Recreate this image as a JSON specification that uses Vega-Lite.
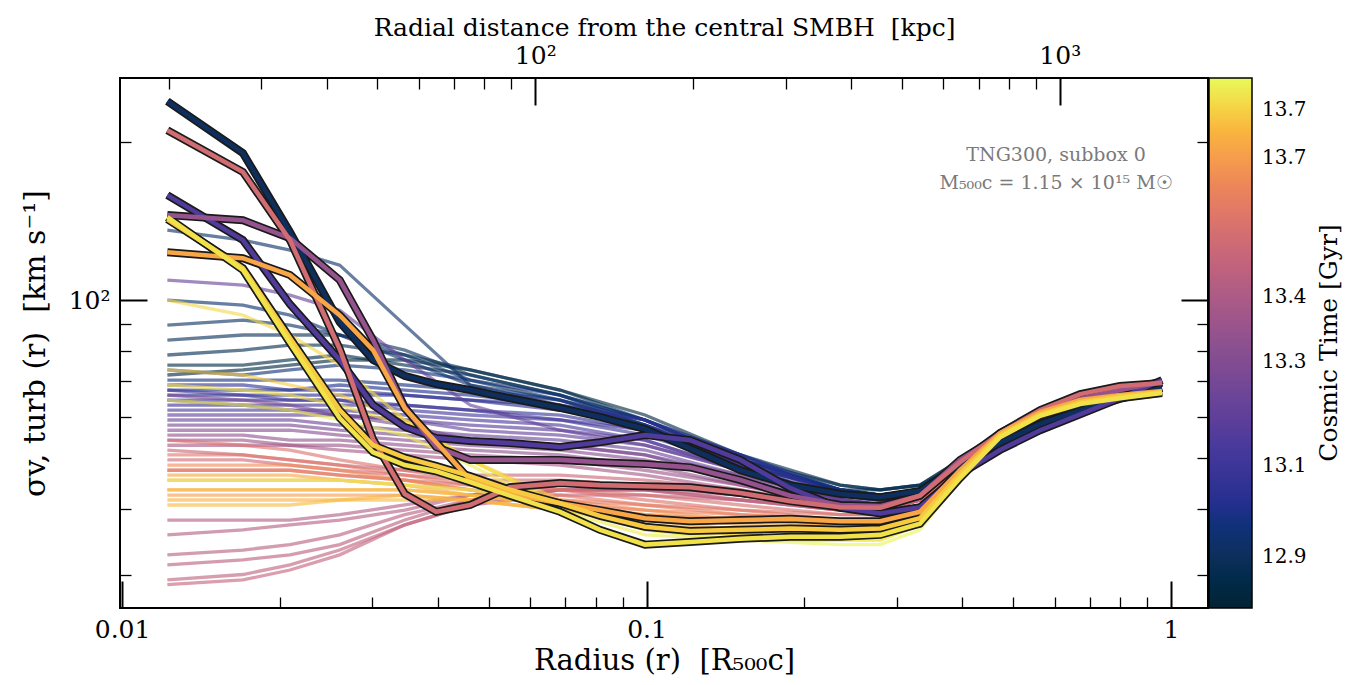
{
"$schema":"https://vega.github.io/schema/vega-lite/v6.json",
"width":1088,"height":530,
"autosize":{"type":"none"},
"padding":{"left":120,"top":78,"right":149,"bottom":77},
"background":"white",
"config":{
 "font":"DejaVu Serif",
 "view":{"stroke":"black","strokeWidth":2},
 "axis":{"domain":false,"grid":false,"tickColor":"black","labelColor":"black","titleColor":"black","titleFontWeight":"normal","labelFlush":false,"labelFont":"DejaVu Serif","titleFont":"DejaVu Serif"},
 "legend":{"labelFont":"DejaVu Serif","titleFont":"DejaVu Serif"},
 "text":{"font":"DejaVu Serif"}
},
"datasets":{
"lines":[{"l":"B1","c":0.03},{"l":"B2","c":0.05},{"l":"B3","c":0.07},{"l":"B4","c":0.09},{"l":"B5","c":0.11},{"l":"B7","c":0.12},{"l":"B6","c":0.13},{"l":"B8","c":0.15},{"l":"I1","c":0.17},{"l":"I2","c":0.19},{"l":"I3","c":0.21},{"l":"I4","c":0.23},{"l":"I5","c":0.25},{"l":"I6","c":0.27},{"l":"I7","c":0.29},{"l":"I8","c":0.31},{"l":"P1","c":0.34},{"l":"P2","c":0.37},{"l":"P6","c":0.38},{"l":"P3","c":0.40},{"l":"P4","c":0.43},{"l":"P5","c":0.45},{"l":"M1","c":0.48},{"l":"M2","c":0.51},{"l":"M3","c":0.54},{"l":"M4","c":0.57},{"l":"R1","c":0.60},{"l":"R2","c":0.61},{"l":"R3","c":0.62},{"l":"R4","c":0.63},{"l":"R5","c":0.64},{"l":"R6","c":0.65},{"l":"R7","c":0.67},{"l":"R8","c":0.69},{"l":"R9","c":0.71},{"l":"O1","c":0.73},{"l":"O2","c":0.75},{"l":"O3","c":0.77},{"l":"O4","c":0.79},{"l":"O5","c":0.81},{"l":"O6","c":0.83},{"l":"O7","c":0.85},{"l":"O8","c":0.87},{"l":"Y1","c":0.89},{"l":"Y2","c":0.91},{"l":"Y8","c":0.92},{"l":"Y3","c":0.93},{"l":"Y4","c":0.95},{"l":"Y5","c":0.96},{"l":"Y6","c":0.98},{"l":"Y7","c":0.99},{"l":"H1","c":0.10},{"l":"H2","c":0.32},{"l":"H3","c":0.52},{"l":"H4","c":0.70},{"l":"H5","c":0.87},{"l":"H6","c":0.93},{"l":"H7","c":0.965}],
"bg":[
{"l":"B1","r":0.0122,"v":72},{"l":"B1","r":0.017,"v":73.6},{"l":"B1","r":0.0209,"v":75.2},{"l":"B1","r":0.026,"v":76.9},{"l":"B1","r":0.0346,"v":76.9},{"l":"B1","r":0.0461,"v":73.6},{"l":"B1","r":0.0684,"v":67.4},{"l":"B1","r":0.0993,"v":60.4},{"l":"B1","r":0.151,"v":50.7},{"l":"B1","r":0.234,"v":44.4},{"l":"B1","r":0.279,"v":43.5},{"l":"B1","r":0.332,"v":44.4},{"l":"B1","r":0.396,"v":49.6},{"l":"B1","r":0.472,"v":52.9},{"l":"B1","r":0.563,"v":56.5},{"l":"B1","r":0.671,"v":60.4},{"l":"B1","r":0.799,"v":64.5},{"l":"B1","r":0.961,"v":67.4},
{"l":"B2","r":0.0122,"v":75.2},{"l":"B2","r":0.017,"v":75.2},{"l":"B2","r":0.0209,"v":76.9},{"l":"B2","r":0.026,"v":78.6},{"l":"B2","r":0.0346,"v":75.2},{"l":"B2","r":0.0461,"v":72},{"l":"B2","r":0.0684,"v":65.9},{"l":"B2","r":0.0993,"v":59.1},{"l":"B2","r":0.151,"v":49.6},{"l":"B2","r":0.234,"v":43.5},{"l":"B2","r":0.279,"v":43.5},{"l":"B2","r":0.332,"v":44.4},{"l":"B2","r":0.396,"v":49.6},{"l":"B2","r":0.472,"v":52.9},{"l":"B2","r":0.563,"v":57.8},{"l":"B2","r":0.671,"v":61.7},{"l":"B2","r":0.799,"v":64.5},{"l":"B2","r":0.961,"v":67.4},
{"l":"B3","r":0.0122,"v":78.6},{"l":"B3","r":0.017,"v":80.3},{"l":"B3","r":0.0209,"v":82.1},{"l":"B3","r":0.026,"v":82.1},{"l":"B3","r":0.0346,"v":78.6},{"l":"B3","r":0.0461,"v":73.6},{"l":"B3","r":0.0684,"v":67.4},{"l":"B3","r":0.0993,"v":59.1},{"l":"B3","r":0.151,"v":49.6},{"l":"B3","r":0.234,"v":44.4},{"l":"B3","r":0.279,"v":43.5},{"l":"B3","r":0.332,"v":44.4},{"l":"B3","r":0.396,"v":48.5},{"l":"B3","r":0.472,"v":52.9},{"l":"B3","r":0.563,"v":56.5},{"l":"B3","r":0.671,"v":60.4},{"l":"B3","r":0.799,"v":64.5},{"l":"B3","r":0.961,"v":67.4},
{"l":"B4","r":0.0122,"v":83.9},{"l":"B4","r":0.017,"v":85.8},{"l":"B4","r":0.0209,"v":85.8},{"l":"B4","r":0.026,"v":85.8},{"l":"B4","r":0.0346,"v":80.3},{"l":"B4","r":0.0461,"v":72},{"l":"B4","r":0.0684,"v":65.9},{"l":"B4","r":0.0993,"v":57.8},{"l":"B4","r":0.151,"v":48.5},{"l":"B4","r":0.234,"v":43.5},{"l":"B4","r":0.279,"v":42.5},{"l":"B4","r":0.332,"v":43.5},{"l":"B4","r":0.396,"v":48.5},{"l":"B4","r":0.472,"v":52.9},{"l":"B4","r":0.563,"v":57.8},{"l":"B4","r":0.671,"v":61.7},{"l":"B4","r":0.799,"v":64.5},{"l":"B4","r":0.961,"v":67.4},
{"l":"B5","r":0.0122,"v":89.6},{"l":"B5","r":0.017,"v":91.6},{"l":"B5","r":0.0209,"v":89.6},{"l":"B5","r":0.026,"v":85.8},{"l":"B5","r":0.0346,"v":78.6},{"l":"B5","r":0.0461,"v":70.4},{"l":"B5","r":0.0684,"v":64.5},{"l":"B5","r":0.0993,"v":57.8},{"l":"B5","r":0.151,"v":48.5},{"l":"B5","r":0.234,"v":43.5},{"l":"B5","r":0.279,"v":42.5},{"l":"B5","r":0.332,"v":43.5},{"l":"B5","r":0.396,"v":48.5},{"l":"B5","r":0.472,"v":52.9},{"l":"B5","r":0.563,"v":57.8},{"l":"B5","r":0.671,"v":61.7},{"l":"B5","r":0.799,"v":64.5},{"l":"B5","r":0.961,"v":67.4},
{"l":"B7","r":0.0122,"v":135.9},{"l":"B7","r":0.017,"v":130.1},{"l":"B7","r":0.0209,"v":124.5},{"l":"B7","r":0.026,"v":116.6},{"l":"B7","r":0.0346,"v":89.6},{"l":"B7","r":0.0461,"v":68.9},{"l":"B7","r":0.0684,"v":63.1},{"l":"B7","r":0.0993,"v":56.5},{"l":"B7","r":0.151,"v":48.5},{"l":"B7","r":0.234,"v":43.5},{"l":"B7","r":0.279,"v":42.5},{"l":"B7","r":0.332,"v":43.5},{"l":"B7","r":0.396,"v":48.5},{"l":"B7","r":0.472,"v":52.9},{"l":"B7","r":0.563,"v":57.8},{"l":"B7","r":0.671,"v":61.7},{"l":"B7","r":0.799,"v":64.5},{"l":"B7","r":0.961,"v":67.4},
{"l":"B6","r":0.0122,"v":100},{"l":"B6","r":0.017,"v":97.8},{"l":"B6","r":0.0209,"v":93.6},{"l":"B6","r":0.026,"v":85.8},{"l":"B6","r":0.0346,"v":76.9},{"l":"B6","r":0.0461,"v":68.9},{"l":"B6","r":0.0684,"v":64.5},{"l":"B6","r":0.0993,"v":57.8},{"l":"B6","r":0.151,"v":49.6},{"l":"B6","r":0.234,"v":43.5},{"l":"B6","r":0.279,"v":42.5},{"l":"B6","r":0.332,"v":43.5},{"l":"B6","r":0.396,"v":48.5},{"l":"B6","r":0.472,"v":52.9},{"l":"B6","r":0.563,"v":57.8},{"l":"B6","r":0.671,"v":61.7},{"l":"B6","r":0.799,"v":64.5},{"l":"B6","r":0.961,"v":67.4},
{"l":"B8","r":0.0122,"v":73.6},{"l":"B8","r":0.017,"v":72},{"l":"B8","r":0.0209,"v":73.6},{"l":"B8","r":0.026,"v":75.2},{"l":"B8","r":0.0346,"v":73.6},{"l":"B8","r":0.0461,"v":70.4},{"l":"B8","r":0.0684,"v":65.9},{"l":"B8","r":0.0993,"v":59.1},{"l":"B8","r":0.151,"v":49.6},{"l":"B8","r":0.234,"v":43.5},{"l":"B8","r":0.279,"v":42.5},{"l":"B8","r":0.332,"v":43.5},{"l":"B8","r":0.396,"v":48.5},{"l":"B8","r":0.472,"v":52.9},{"l":"B8","r":0.563,"v":56.5},{"l":"B8","r":0.671,"v":61.7},{"l":"B8","r":0.799,"v":64.5},{"l":"B8","r":0.961,"v":67.4},
{"l":"I1","r":0.0122,"v":70.4},{"l":"I1","r":0.017,"v":70.4},{"l":"I1","r":0.0209,"v":70.4},{"l":"I1","r":0.026,"v":70.4},{"l":"I1","r":0.0346,"v":68.9},{"l":"I1","r":0.0461,"v":67.4},{"l":"I1","r":0.0684,"v":64.5},{"l":"I1","r":0.0993,"v":59.1},{"l":"I1","r":0.151,"v":50.7},{"l":"I1","r":0.234,"v":43.5},{"l":"I1","r":0.279,"v":42.5},{"l":"I1","r":0.332,"v":43.5},{"l":"I1","r":0.396,"v":48.5},{"l":"I1","r":0.472,"v":52.9},{"l":"I1","r":0.563,"v":57.8},{"l":"I1","r":0.671,"v":61.7},{"l":"I1","r":0.799,"v":65.9},{"l":"I1","r":0.961,"v":68.9},
{"l":"I2","r":0.0122,"v":67.4},{"l":"I2","r":0.017,"v":67.4},{"l":"I2","r":0.0209,"v":67.4},{"l":"I2","r":0.026,"v":68.9},{"l":"I2","r":0.0346,"v":67.4},{"l":"I2","r":0.0461,"v":65.9},{"l":"I2","r":0.0684,"v":63.1},{"l":"I2","r":0.0993,"v":59.1},{"l":"I2","r":0.151,"v":50.7},{"l":"I2","r":0.234,"v":42.5},{"l":"I2","r":0.279,"v":41.6},{"l":"I2","r":0.332,"v":42.5},{"l":"I2","r":0.396,"v":47.4},{"l":"I2","r":0.472,"v":51.8},{"l":"I2","r":0.563,"v":56.5},{"l":"I2","r":0.671,"v":61.7},{"l":"I2","r":0.799,"v":65.9},{"l":"I2","r":0.961,"v":68.9},
{"l":"I3","r":0.0122,"v":65.9},{"l":"I3","r":0.017,"v":65.9},{"l":"I3","r":0.0209,"v":65.9},{"l":"I3","r":0.026,"v":65.9},{"l":"I3","r":0.0346,"v":65.9},{"l":"I3","r":0.0461,"v":64.5},{"l":"I3","r":0.0684,"v":61.7},{"l":"I3","r":0.0993,"v":57.8},{"l":"I3","r":0.151,"v":50.7},{"l":"I3","r":0.234,"v":42.5},{"l":"I3","r":0.279,"v":41.6},{"l":"I3","r":0.332,"v":42.5},{"l":"I3","r":0.396,"v":47.4},{"l":"I3","r":0.472,"v":51.8},{"l":"I3","r":0.563,"v":56.5},{"l":"I3","r":0.671,"v":61.7},{"l":"I3","r":0.799,"v":65.9},{"l":"I3","r":0.961,"v":68.9},
{"l":"I4","r":0.0122,"v":68.9},{"l":"I4","r":0.017,"v":68.9},{"l":"I4","r":0.0209,"v":67.4},{"l":"I4","r":0.026,"v":67.4},{"l":"I4","r":0.0346,"v":65.9},{"l":"I4","r":0.0461,"v":64.5},{"l":"I4","r":0.0684,"v":63.1},{"l":"I4","r":0.0993,"v":59.1},{"l":"I4","r":0.151,"v":49.6},{"l":"I4","r":0.234,"v":42.5},{"l":"I4","r":0.279,"v":41.6},{"l":"I4","r":0.332,"v":42.5},{"l":"I4","r":0.396,"v":47.4},{"l":"I4","r":0.472,"v":51.8},{"l":"I4","r":0.563,"v":56.5},{"l":"I4","r":0.671,"v":60.4},{"l":"I4","r":0.799,"v":64.5},{"l":"I4","r":0.961,"v":68.9},
{"l":"I5","r":0.0122,"v":64.5},{"l":"I5","r":0.017,"v":64.5},{"l":"I5","r":0.0209,"v":64.5},{"l":"I5","r":0.026,"v":64.5},{"l":"I5","r":0.0346,"v":63.1},{"l":"I5","r":0.0461,"v":61.7},{"l":"I5","r":0.0684,"v":60.4},{"l":"I5","r":0.0993,"v":56.5},{"l":"I5","r":0.151,"v":48.5},{"l":"I5","r":0.234,"v":42.5},{"l":"I5","r":0.279,"v":41.6},{"l":"I5","r":0.332,"v":42.5},{"l":"I5","r":0.396,"v":47.4},{"l":"I5","r":0.472,"v":51.8},{"l":"I5","r":0.563,"v":56.5},{"l":"I5","r":0.671,"v":60.4},{"l":"I5","r":0.799,"v":64.5},{"l":"I5","r":0.961,"v":68.9},
{"l":"I6","r":0.0122,"v":63.1},{"l":"I6","r":0.017,"v":63.1},{"l":"I6","r":0.0209,"v":63.1},{"l":"I6","r":0.026,"v":63.1},{"l":"I6","r":0.0346,"v":63.1},{"l":"I6","r":0.0461,"v":61.7},{"l":"I6","r":0.0684,"v":59.1},{"l":"I6","r":0.0993,"v":56.5},{"l":"I6","r":0.151,"v":48.5},{"l":"I6","r":0.234,"v":41.6},{"l":"I6","r":0.279,"v":41.6},{"l":"I6","r":0.332,"v":42.5},{"l":"I6","r":0.396,"v":47.4},{"l":"I6","r":0.472,"v":51.8},{"l":"I6","r":0.563,"v":56.5},{"l":"I6","r":0.671,"v":60.4},{"l":"I6","r":0.799,"v":64.5},{"l":"I6","r":0.961,"v":68.9},
{"l":"I7","r":0.0122,"v":67.4},{"l":"I7","r":0.017,"v":65.9},{"l":"I7","r":0.0209,"v":64.5},{"l":"I7","r":0.026,"v":64.5},{"l":"I7","r":0.0346,"v":61.7},{"l":"I7","r":0.0461,"v":60.4},{"l":"I7","r":0.0684,"v":59.1},{"l":"I7","r":0.0993,"v":55.3},{"l":"I7","r":0.151,"v":48.5},{"l":"I7","r":0.234,"v":41.6},{"l":"I7","r":0.279,"v":40.7},{"l":"I7","r":0.332,"v":42.5},{"l":"I7","r":0.396,"v":47.4},{"l":"I7","r":0.472,"v":51.8},{"l":"I7","r":0.563,"v":56.5},{"l":"I7","r":0.671,"v":60.4},{"l":"I7","r":0.799,"v":64.5},{"l":"I7","r":0.961,"v":68.9},
{"l":"I8","r":0.0122,"v":61.7},{"l":"I8","r":0.017,"v":61.7},{"l":"I8","r":0.0209,"v":61.7},{"l":"I8","r":0.026,"v":61.7},{"l":"I8","r":0.0346,"v":60.4},{"l":"I8","r":0.0461,"v":59.1},{"l":"I8","r":0.0684,"v":57.8},{"l":"I8","r":0.0993,"v":54.1},{"l":"I8","r":0.151,"v":47.4},{"l":"I8","r":0.234,"v":41.6},{"l":"I8","r":0.279,"v":40.7},{"l":"I8","r":0.332,"v":41.6},{"l":"I8","r":0.396,"v":47.4},{"l":"I8","r":0.472,"v":51.8},{"l":"I8","r":0.563,"v":56.5},{"l":"I8","r":0.671,"v":61.7},{"l":"I8","r":0.799,"v":65.9},{"l":"I8","r":0.961,"v":68.9},
{"l":"P1","r":0.0122,"v":64.5},{"l":"P1","r":0.017,"v":63.1},{"l":"P1","r":0.0209,"v":61.7},{"l":"P1","r":0.026,"v":60.4},{"l":"P1","r":0.0346,"v":59.1},{"l":"P1","r":0.0461,"v":57.8},{"l":"P1","r":0.0684,"v":56.5},{"l":"P1","r":0.0993,"v":54.1},{"l":"P1","r":0.151,"v":47.4},{"l":"P1","r":0.234,"v":41.6},{"l":"P1","r":0.279,"v":40.7},{"l":"P1","r":0.332,"v":42.5},{"l":"P1","r":0.396,"v":48.5},{"l":"P1","r":0.472,"v":54.1},{"l":"P1","r":0.563,"v":59.1},{"l":"P1","r":0.671,"v":63.1},{"l":"P1","r":0.799,"v":65.9},{"l":"P1","r":0.961,"v":68.9},
{"l":"P2","r":0.0122,"v":60.4},{"l":"P2","r":0.017,"v":60.4},{"l":"P2","r":0.0209,"v":60.4},{"l":"P2","r":0.026,"v":60.4},{"l":"P2","r":0.0346,"v":59.1},{"l":"P2","r":0.0461,"v":56.5},{"l":"P2","r":0.0684,"v":55.3},{"l":"P2","r":0.0993,"v":52.9},{"l":"P2","r":0.151,"v":47.4},{"l":"P2","r":0.234,"v":41.6},{"l":"P2","r":0.279,"v":40.7},{"l":"P2","r":0.332,"v":42.5},{"l":"P2","r":0.396,"v":48.5},{"l":"P2","r":0.472,"v":54.1},{"l":"P2","r":0.563,"v":59.1},{"l":"P2","r":0.671,"v":63.1},{"l":"P2","r":0.799,"v":65.9},{"l":"P2","r":0.961,"v":68.9},
{"l":"P6","r":0.0122,"v":109.2},{"l":"P6","r":0.017,"v":106.8},{"l":"P6","r":0.0209,"v":102.2},{"l":"P6","r":0.026,"v":95.7},{"l":"P6","r":0.0346,"v":76.9},{"l":"P6","r":0.0461,"v":63.1},{"l":"P6","r":0.0684,"v":56.5},{"l":"P6","r":0.0993,"v":52.9},{"l":"P6","r":0.151,"v":47.4},{"l":"P6","r":0.234,"v":41.6},{"l":"P6","r":0.279,"v":40.7},{"l":"P6","r":0.332,"v":42.5},{"l":"P6","r":0.396,"v":48.5},{"l":"P6","r":0.472,"v":54.1},{"l":"P6","r":0.563,"v":59.1},{"l":"P6","r":0.671,"v":63.1},{"l":"P6","r":0.799,"v":65.9},{"l":"P6","r":0.961,"v":68.9},
{"l":"P3","r":0.0122,"v":59.1},{"l":"P3","r":0.017,"v":59.1},{"l":"P3","r":0.0209,"v":59.1},{"l":"P3","r":0.026,"v":57.8},{"l":"P3","r":0.0346,"v":56.5},{"l":"P3","r":0.0461,"v":55.3},{"l":"P3","r":0.0684,"v":54.1},{"l":"P3","r":0.0993,"v":51.8},{"l":"P3","r":0.151,"v":46.4},{"l":"P3","r":0.234,"v":41.6},{"l":"P3","r":0.279,"v":40.7},{"l":"P3","r":0.332,"v":42.5},{"l":"P3","r":0.396,"v":48.5},{"l":"P3","r":0.472,"v":54.1},{"l":"P3","r":0.563,"v":59.1},{"l":"P3","r":0.671,"v":63.1},{"l":"P3","r":0.799,"v":65.9},{"l":"P3","r":0.961,"v":68.9},
{"l":"P4","r":0.0122,"v":57.8},{"l":"P4","r":0.017,"v":57.8},{"l":"P4","r":0.0209,"v":57.8},{"l":"P4","r":0.026,"v":56.5},{"l":"P4","r":0.0346,"v":55.3},{"l":"P4","r":0.0461,"v":54.1},{"l":"P4","r":0.0684,"v":52.9},{"l":"P4","r":0.0993,"v":50.7},{"l":"P4","r":0.151,"v":46.4},{"l":"P4","r":0.234,"v":40.7},{"l":"P4","r":0.279,"v":40.7},{"l":"P4","r":0.332,"v":41.6},{"l":"P4","r":0.396,"v":48.5},{"l":"P4","r":0.472,"v":54.1},{"l":"P4","r":0.563,"v":59.1},{"l":"P4","r":0.671,"v":63.1},{"l":"P4","r":0.799,"v":65.9},{"l":"P4","r":0.961,"v":68.9},
{"l":"P5","r":0.0122,"v":65.9},{"l":"P5","r":0.017,"v":64.5},{"l":"P5","r":0.0209,"v":63.1},{"l":"P5","r":0.026,"v":60.4},{"l":"P5","r":0.0346,"v":57.8},{"l":"P5","r":0.0461,"v":54.1},{"l":"P5","r":0.0684,"v":52.9},{"l":"P5","r":0.0993,"v":50.7},{"l":"P5","r":0.151,"v":45.4},{"l":"P5","r":0.234,"v":40.7},{"l":"P5","r":0.279,"v":40.7},{"l":"P5","r":0.332,"v":41.6},{"l":"P5","r":0.396,"v":48.5},{"l":"P5","r":0.472,"v":54.1},{"l":"P5","r":0.563,"v":59.1},{"l":"P5","r":0.671,"v":63.1},{"l":"P5","r":0.799,"v":65.9},{"l":"P5","r":0.961,"v":68.9},
{"l":"M1","r":0.0122,"v":56.5},{"l":"M1","r":0.017,"v":56.5},{"l":"M1","r":0.0209,"v":56.5},{"l":"M1","r":0.026,"v":55.3},{"l":"M1","r":0.0346,"v":54.1},{"l":"M1","r":0.0461,"v":52.9},{"l":"M1","r":0.0684,"v":51.8},{"l":"M1","r":0.0993,"v":49.6},{"l":"M1","r":0.151,"v":45.4},{"l":"M1","r":0.234,"v":40.7},{"l":"M1","r":0.279,"v":40.7},{"l":"M1","r":0.332,"v":41.6},{"l":"M1","r":0.396,"v":48.5},{"l":"M1","r":0.472,"v":54.1},{"l":"M1","r":0.563,"v":59.1},{"l":"M1","r":0.671,"v":63.1},{"l":"M1","r":0.799,"v":65.9},{"l":"M1","r":0.961,"v":68.9},
{"l":"M2","r":0.0122,"v":55.3},{"l":"M2","r":0.017,"v":55.3},{"l":"M2","r":0.0209,"v":54.1},{"l":"M2","r":0.026,"v":54.1},{"l":"M2","r":0.0346,"v":52.9},{"l":"M2","r":0.0461,"v":51.8},{"l":"M2","r":0.0684,"v":50.7},{"l":"M2","r":0.0993,"v":48.5},{"l":"M2","r":0.151,"v":44.4},{"l":"M2","r":0.234,"v":40.7},{"l":"M2","r":0.279,"v":39.8},{"l":"M2","r":0.332,"v":41.6},{"l":"M2","r":0.396,"v":48.5},{"l":"M2","r":0.472,"v":54.1},{"l":"M2","r":0.563,"v":59.1},{"l":"M2","r":0.671,"v":63.1},{"l":"M2","r":0.799,"v":65.9},{"l":"M2","r":0.961,"v":68.9},
{"l":"M3","r":0.0122,"v":54.1},{"l":"M3","r":0.017,"v":54.1},{"l":"M3","r":0.0209,"v":52.9},{"l":"M3","r":0.026,"v":52.9},{"l":"M3","r":0.0346,"v":51.8},{"l":"M3","r":0.0461,"v":50.7},{"l":"M3","r":0.0684,"v":49.6},{"l":"M3","r":0.0993,"v":47.4},{"l":"M3","r":0.151,"v":44.4},{"l":"M3","r":0.234,"v":40.7},{"l":"M3","r":0.279,"v":39.8},{"l":"M3","r":0.332,"v":41.6},{"l":"M3","r":0.396,"v":48.5},{"l":"M3","r":0.472,"v":54.1},{"l":"M3","r":0.563,"v":59.1},{"l":"M3","r":0.671,"v":63.1},{"l":"M3","r":0.799,"v":67.4},{"l":"M3","r":0.961,"v":68.9},
{"l":"M4","r":0.0122,"v":52.9},{"l":"M4","r":0.017,"v":52.9},{"l":"M4","r":0.0209,"v":52.9},{"l":"M4","r":0.026,"v":51.8},{"l":"M4","r":0.0346,"v":50.7},{"l":"M4","r":0.0461,"v":49.6},{"l":"M4","r":0.0684,"v":48.5},{"l":"M4","r":0.0993,"v":46.4},{"l":"M4","r":0.151,"v":43.5},{"l":"M4","r":0.234,"v":39.8},{"l":"M4","r":0.279,"v":39.8},{"l":"M4","r":0.332,"v":41.6},{"l":"M4","r":0.396,"v":48.5},{"l":"M4","r":0.472,"v":54.1},{"l":"M4","r":0.563,"v":59.1},{"l":"M4","r":0.671,"v":64.5},{"l":"M4","r":0.799,"v":67.4},{"l":"M4","r":0.961,"v":68.9},
{"l":"R1","r":0.0122,"v":38.1},{"l":"R1","r":0.017,"v":38.1},{"l":"R1","r":0.0209,"v":38.1},{"l":"R1","r":0.026,"v":39},{"l":"R1","r":0.0346,"v":40.7},{"l":"R1","r":0.0461,"v":42.5},{"l":"R1","r":0.0684,"v":44.4},{"l":"R1","r":0.0993,"v":44.4},{"l":"R1","r":0.151,"v":42.5},{"l":"R1","r":0.234,"v":39.8},{"l":"R1","r":0.279,"v":39.8},{"l":"R1","r":0.332,"v":41.6},{"l":"R1","r":0.396,"v":48.5},{"l":"R1","r":0.472,"v":55.3},{"l":"R1","r":0.563,"v":60.4},{"l":"R1","r":0.671,"v":64.5},{"l":"R1","r":0.799,"v":67.4},{"l":"R1","r":0.961,"v":68.9},
{"l":"R2","r":0.0122,"v":35.7},{"l":"R2","r":0.017,"v":36.5},{"l":"R2","r":0.0209,"v":37.3},{"l":"R2","r":0.026,"v":38.1},{"l":"R2","r":0.0346,"v":39.8},{"l":"R2","r":0.0461,"v":42.5},{"l":"R2","r":0.0684,"v":44.4},{"l":"R2","r":0.0993,"v":44.4},{"l":"R2","r":0.151,"v":42.5},{"l":"R2","r":0.234,"v":39.8},{"l":"R2","r":0.279,"v":39.8},{"l":"R2","r":0.332,"v":41.6},{"l":"R2","r":0.396,"v":48.5},{"l":"R2","r":0.472,"v":55.3},{"l":"R2","r":0.563,"v":60.4},{"l":"R2","r":0.671,"v":64.5},{"l":"R2","r":0.799,"v":67.4},{"l":"R2","r":0.961,"v":68.9},
{"l":"R3","r":0.0122,"v":32.7},{"l":"R3","r":0.017,"v":33.4},{"l":"R3","r":0.0209,"v":34.2},{"l":"R3","r":0.026,"v":35.7},{"l":"R3","r":0.0346,"v":39},{"l":"R3","r":0.0461,"v":41.6},{"l":"R3","r":0.0684,"v":43.5},{"l":"R3","r":0.0993,"v":43.5},{"l":"R3","r":0.151,"v":42.5},{"l":"R3","r":0.234,"v":39.8},{"l":"R3","r":0.279,"v":39.8},{"l":"R3","r":0.332,"v":41.6},{"l":"R3","r":0.396,"v":48.5},{"l":"R3","r":0.472,"v":55.3},{"l":"R3","r":0.563,"v":60.4},{"l":"R3","r":0.671,"v":64.5},{"l":"R3","r":0.799,"v":67.4},{"l":"R3","r":0.961,"v":68.9},
{"l":"R4","r":0.0122,"v":31.3},{"l":"R4","r":0.017,"v":32},{"l":"R4","r":0.0209,"v":32.7},{"l":"R4","r":0.026,"v":34.2},{"l":"R4","r":0.0346,"v":38.1},{"l":"R4","r":0.0461,"v":41.6},{"l":"R4","r":0.0684,"v":43.5},{"l":"R4","r":0.0993,"v":43.5},{"l":"R4","r":0.151,"v":41.6},{"l":"R4","r":0.234,"v":39.8},{"l":"R4","r":0.279,"v":39.8},{"l":"R4","r":0.332,"v":41.6},{"l":"R4","r":0.396,"v":48.5},{"l":"R4","r":0.472,"v":55.3},{"l":"R4","r":0.563,"v":60.4},{"l":"R4","r":0.671,"v":64.5},{"l":"R4","r":0.799,"v":67.4},{"l":"R4","r":0.961,"v":68.9},
{"l":"R5","r":0.0122,"v":29.3},{"l":"R5","r":0.017,"v":30},{"l":"R5","r":0.0209,"v":31.3},{"l":"R5","r":0.026,"v":33.4},{"l":"R5","r":0.0346,"v":37.3},{"l":"R5","r":0.0461,"v":40.7},{"l":"R5","r":0.0684,"v":43.5},{"l":"R5","r":0.0993,"v":43.5},{"l":"R5","r":0.151,"v":41.6},{"l":"R5","r":0.234,"v":39.8},{"l":"R5","r":0.279,"v":39.8},{"l":"R5","r":0.332,"v":41.6},{"l":"R5","r":0.396,"v":48.5},{"l":"R5","r":0.472,"v":55.3},{"l":"R5","r":0.563,"v":60.4},{"l":"R5","r":0.671,"v":64.5},{"l":"R5","r":0.799,"v":67.4},{"l":"R5","r":0.961,"v":68.9},
{"l":"R6","r":0.0122,"v":28.7},{"l":"R6","r":0.017,"v":29.3},{"l":"R6","r":0.0209,"v":30.6},{"l":"R6","r":0.026,"v":32.7},{"l":"R6","r":0.0346,"v":37.3},{"l":"R6","r":0.0461,"v":40.7},{"l":"R6","r":0.0684,"v":42.5},{"l":"R6","r":0.0993,"v":42.5},{"l":"R6","r":0.151,"v":41.6},{"l":"R6","r":0.234,"v":39.8},{"l":"R6","r":0.279,"v":39.8},{"l":"R6","r":0.332,"v":41.6},{"l":"R6","r":0.396,"v":48.5},{"l":"R6","r":0.472,"v":55.3},{"l":"R6","r":0.563,"v":60.4},{"l":"R6","r":0.671,"v":64.5},{"l":"R6","r":0.799,"v":67.4},{"l":"R6","r":0.961,"v":68.9},
{"l":"R7","r":0.0122,"v":51.8},{"l":"R7","r":0.017,"v":50.7},{"l":"R7","r":0.0209,"v":49.6},{"l":"R7","r":0.026,"v":48.5},{"l":"R7","r":0.0346,"v":47.4},{"l":"R7","r":0.0461,"v":46.4},{"l":"R7","r":0.0684,"v":46.4},{"l":"R7","r":0.0993,"v":45.4},{"l":"R7","r":0.151,"v":43.5},{"l":"R7","r":0.234,"v":40.7},{"l":"R7","r":0.279,"v":39.8},{"l":"R7","r":0.332,"v":41.6},{"l":"R7","r":0.396,"v":48.5},{"l":"R7","r":0.472,"v":55.3},{"l":"R7","r":0.563,"v":60.4},{"l":"R7","r":0.671,"v":64.5},{"l":"R7","r":0.799,"v":67.4},{"l":"R7","r":0.961,"v":68.9},
{"l":"R8","r":0.0122,"v":49.6},{"l":"R8","r":0.017,"v":49.6},{"l":"R8","r":0.0209,"v":48.5},{"l":"R8","r":0.026,"v":47.4},{"l":"R8","r":0.0346,"v":46.4},{"l":"R8","r":0.0461,"v":45.4},{"l":"R8","r":0.0684,"v":45.4},{"l":"R8","r":0.0993,"v":44.4},{"l":"R8","r":0.151,"v":42.5},{"l":"R8","r":0.234,"v":39.8},{"l":"R8","r":0.279,"v":39.8},{"l":"R8","r":0.332,"v":41.6},{"l":"R8","r":0.396,"v":48.5},{"l":"R8","r":0.472,"v":55.3},{"l":"R8","r":0.563,"v":60.4},{"l":"R8","r":0.671,"v":64.5},{"l":"R8","r":0.799,"v":67.4},{"l":"R8","r":0.961,"v":68.9},
{"l":"R9","r":0.0122,"v":47.4},{"l":"R9","r":0.017,"v":47.4},{"l":"R9","r":0.0209,"v":47.4},{"l":"R9","r":0.026,"v":46.4},{"l":"R9","r":0.0346,"v":45.4},{"l":"R9","r":0.0461,"v":44.4},{"l":"R9","r":0.0684,"v":43.5},{"l":"R9","r":0.0993,"v":42.5},{"l":"R9","r":0.151,"v":40.7},{"l":"R9","r":0.234,"v":39},{"l":"R9","r":0.279,"v":39},{"l":"R9","r":0.332,"v":40.7},{"l":"R9","r":0.396,"v":48.5},{"l":"R9","r":0.472,"v":55.3},{"l":"R9","r":0.563,"v":60.4},{"l":"R9","r":0.671,"v":64.5},{"l":"R9","r":0.799,"v":67.4},{"l":"R9","r":0.961,"v":68.9},
{"l":"O1","r":0.0122,"v":54.1},{"l":"O1","r":0.017,"v":52.9},{"l":"O1","r":0.0209,"v":51.8},{"l":"O1","r":0.026,"v":49.6},{"l":"O1","r":0.0346,"v":47.4},{"l":"O1","r":0.0461,"v":45.4},{"l":"O1","r":0.0684,"v":43.5},{"l":"O1","r":0.0993,"v":41.6},{"l":"O1","r":0.151,"v":39.8},{"l":"O1","r":0.234,"v":39},{"l":"O1","r":0.279,"v":39},{"l":"O1","r":0.332,"v":40.7},{"l":"O1","r":0.396,"v":48.5},{"l":"O1","r":0.472,"v":55.3},{"l":"O1","r":0.563,"v":60.4},{"l":"O1","r":0.671,"v":64.5},{"l":"O1","r":0.799,"v":65.9},{"l":"O1","r":0.961,"v":67.4},
{"l":"O2","r":0.0122,"v":50.7},{"l":"O2","r":0.017,"v":50.7},{"l":"O2","r":0.0209,"v":49.6},{"l":"O2","r":0.026,"v":48.5},{"l":"O2","r":0.0346,"v":46.4},{"l":"O2","r":0.0461,"v":44.4},{"l":"O2","r":0.0684,"v":42.5},{"l":"O2","r":0.0993,"v":40.7},{"l":"O2","r":0.151,"v":39.8},{"l":"O2","r":0.234,"v":38.1},{"l":"O2","r":0.279,"v":38.1},{"l":"O2","r":0.332,"v":39.8},{"l":"O2","r":0.396,"v":47.4},{"l":"O2","r":0.472,"v":55.3},{"l":"O2","r":0.563,"v":60.4},{"l":"O2","r":0.671,"v":64.5},{"l":"O2","r":0.799,"v":65.9},{"l":"O2","r":0.961,"v":67.4},
{"l":"O3","r":0.0122,"v":47.4},{"l":"O3","r":0.017,"v":47.4},{"l":"O3","r":0.0209,"v":47.4},{"l":"O3","r":0.026,"v":46.4},{"l":"O3","r":0.0346,"v":45.4},{"l":"O3","r":0.0461,"v":43.5},{"l":"O3","r":0.0684,"v":41.6},{"l":"O3","r":0.0993,"v":40.7},{"l":"O3","r":0.151,"v":39},{"l":"O3","r":0.234,"v":38.1},{"l":"O3","r":0.279,"v":38.1},{"l":"O3","r":0.332,"v":39.8},{"l":"O3","r":0.396,"v":47.4},{"l":"O3","r":0.472,"v":55.3},{"l":"O3","r":0.563,"v":60.4},{"l":"O3","r":0.671,"v":64.5},{"l":"O3","r":0.799,"v":65.9},{"l":"O3","r":0.961,"v":67.4},
{"l":"O4","r":0.0122,"v":45.4},{"l":"O4","r":0.017,"v":45.4},{"l":"O4","r":0.0209,"v":45.4},{"l":"O4","r":0.026,"v":45.4},{"l":"O4","r":0.0346,"v":44.4},{"l":"O4","r":0.0461,"v":43.5},{"l":"O4","r":0.0684,"v":41.6},{"l":"O4","r":0.0993,"v":39.8},{"l":"O4","r":0.151,"v":39},{"l":"O4","r":0.234,"v":38.1},{"l":"O4","r":0.279,"v":38.1},{"l":"O4","r":0.332,"v":39.8},{"l":"O4","r":0.396,"v":47.4},{"l":"O4","r":0.472,"v":55.3},{"l":"O4","r":0.563,"v":60.4},{"l":"O4","r":0.671,"v":64.5},{"l":"O4","r":0.799,"v":65.9},{"l":"O4","r":0.961,"v":67.4},
{"l":"O5","r":0.0122,"v":48.5},{"l":"O5","r":0.017,"v":48.5},{"l":"O5","r":0.0209,"v":48.5},{"l":"O5","r":0.026,"v":47.4},{"l":"O5","r":0.0346,"v":45.4},{"l":"O5","r":0.0461,"v":43.5},{"l":"O5","r":0.0684,"v":40.7},{"l":"O5","r":0.0993,"v":39.8},{"l":"O5","r":0.151,"v":38.1},{"l":"O5","r":0.234,"v":38.1},{"l":"O5","r":0.279,"v":37.3},{"l":"O5","r":0.332,"v":39},{"l":"O5","r":0.396,"v":47.4},{"l":"O5","r":0.472,"v":55.3},{"l":"O5","r":0.563,"v":60.4},{"l":"O5","r":0.671,"v":64.5},{"l":"O5","r":0.799,"v":65.9},{"l":"O5","r":0.961,"v":67.4},
{"l":"O6","r":0.0122,"v":43.5},{"l":"O6","r":0.017,"v":43.5},{"l":"O6","r":0.0209,"v":43.5},{"l":"O6","r":0.026,"v":43.5},{"l":"O6","r":0.0346,"v":43.5},{"l":"O6","r":0.0461,"v":42.5},{"l":"O6","r":0.0684,"v":40.7},{"l":"O6","r":0.0993,"v":39},{"l":"O6","r":0.151,"v":38.1},{"l":"O6","r":0.234,"v":37.3},{"l":"O6","r":0.279,"v":37.3},{"l":"O6","r":0.332,"v":39},{"l":"O6","r":0.396,"v":47.4},{"l":"O6","r":0.472,"v":55.3},{"l":"O6","r":0.563,"v":60.4},{"l":"O6","r":0.671,"v":64.5},{"l":"O6","r":0.799,"v":65.9},{"l":"O6","r":0.961,"v":67.4},
{"l":"O7","r":0.0122,"v":42.5},{"l":"O7","r":0.017,"v":42.5},{"l":"O7","r":0.0209,"v":42.5},{"l":"O7","r":0.026,"v":42.5},{"l":"O7","r":0.0346,"v":42.5},{"l":"O7","r":0.0461,"v":41.6},{"l":"O7","r":0.0684,"v":39.8},{"l":"O7","r":0.0993,"v":39},{"l":"O7","r":0.151,"v":38.1},{"l":"O7","r":0.234,"v":37.3},{"l":"O7","r":0.279,"v":37.3},{"l":"O7","r":0.332,"v":39},{"l":"O7","r":0.396,"v":47.4},{"l":"O7","r":0.472,"v":55.3},{"l":"O7","r":0.563,"v":60.4},{"l":"O7","r":0.671,"v":64.5},{"l":"O7","r":0.799,"v":65.9},{"l":"O7","r":0.961,"v":67.4},
{"l":"O8","r":0.0122,"v":46.4},{"l":"O8","r":0.017,"v":46.4},{"l":"O8","r":0.0209,"v":46.4},{"l":"O8","r":0.026,"v":45.4},{"l":"O8","r":0.0346,"v":44.4},{"l":"O8","r":0.0461,"v":42.5},{"l":"O8","r":0.0684,"v":40.7},{"l":"O8","r":0.0993,"v":39},{"l":"O8","r":0.151,"v":37.3},{"l":"O8","r":0.234,"v":37.3},{"l":"O8","r":0.279,"v":37.3},{"l":"O8","r":0.332,"v":39},{"l":"O8","r":0.396,"v":47.4},{"l":"O8","r":0.472,"v":55.3},{"l":"O8","r":0.563,"v":60.4},{"l":"O8","r":0.671,"v":64.5},{"l":"O8","r":0.799,"v":65.9},{"l":"O8","r":0.961,"v":67.4},
{"l":"Y1","r":0.0122,"v":41.6},{"l":"Y1","r":0.017,"v":41.6},{"l":"Y1","r":0.0209,"v":41.6},{"l":"Y1","r":0.026,"v":41.6},{"l":"Y1","r":0.0346,"v":42.5},{"l":"Y1","r":0.0461,"v":41.6},{"l":"Y1","r":0.0684,"v":39.8},{"l":"Y1","r":0.0993,"v":38.1},{"l":"Y1","r":0.151,"v":36.5},{"l":"Y1","r":0.234,"v":36.5},{"l":"Y1","r":0.279,"v":36.5},{"l":"Y1","r":0.332,"v":38.1},{"l":"Y1","r":0.396,"v":46.4},{"l":"Y1","r":0.472,"v":55.3},{"l":"Y1","r":0.563,"v":60.4},{"l":"Y1","r":0.671,"v":63.1},{"l":"Y1","r":0.799,"v":65.9},{"l":"Y1","r":0.961,"v":67.4},
{"l":"Y2","r":0.0122,"v":40.7},{"l":"Y2","r":0.017,"v":40.7},{"l":"Y2","r":0.0209,"v":40.7},{"l":"Y2","r":0.026,"v":41.6},{"l":"Y2","r":0.0346,"v":41.6},{"l":"Y2","r":0.0461,"v":41.6},{"l":"Y2","r":0.0684,"v":39.8},{"l":"Y2","r":0.0993,"v":37.3},{"l":"Y2","r":0.151,"v":36.5},{"l":"Y2","r":0.234,"v":36.5},{"l":"Y2","r":0.279,"v":36.5},{"l":"Y2","r":0.332,"v":38.1},{"l":"Y2","r":0.396,"v":46.4},{"l":"Y2","r":0.472,"v":55.3},{"l":"Y2","r":0.563,"v":60.4},{"l":"Y2","r":0.671,"v":63.1},{"l":"Y2","r":0.799,"v":65.9},{"l":"Y2","r":0.961,"v":67.4},
{"l":"Y8","r":0.0122,"v":43.5},{"l":"Y8","r":0.017,"v":43.5},{"l":"Y8","r":0.0209,"v":43.5},{"l":"Y8","r":0.026,"v":43.5},{"l":"Y8","r":0.0346,"v":43.5},{"l":"Y8","r":0.0461,"v":42.5},{"l":"Y8","r":0.0684,"v":40.7},{"l":"Y8","r":0.0993,"v":37.3},{"l":"Y8","r":0.151,"v":35.7},{"l":"Y8","r":0.234,"v":35.7},{"l":"Y8","r":0.279,"v":35.7},{"l":"Y8","r":0.332,"v":38.1},{"l":"Y8","r":0.396,"v":46.4},{"l":"Y8","r":0.472,"v":55.3},{"l":"Y8","r":0.563,"v":60.4},{"l":"Y8","r":0.671,"v":63.1},{"l":"Y8","r":0.799,"v":64.5},{"l":"Y8","r":0.961,"v":65.9},
{"l":"Y3","r":0.0122,"v":73.6},{"l":"Y3","r":0.017,"v":72},{"l":"Y3","r":0.0209,"v":68.9},{"l":"Y3","r":0.026,"v":65.9},{"l":"Y3","r":0.0346,"v":59.1},{"l":"Y3","r":0.0461,"v":49.6},{"l":"Y3","r":0.0684,"v":41.6},{"l":"Y3","r":0.0993,"v":37.3},{"l":"Y3","r":0.151,"v":35.7},{"l":"Y3","r":0.234,"v":35.7},{"l":"Y3","r":0.279,"v":35.7},{"l":"Y3","r":0.332,"v":38.1},{"l":"Y3","r":0.396,"v":46.4},{"l":"Y3","r":0.472,"v":55.3},{"l":"Y3","r":0.563,"v":60.4},{"l":"Y3","r":0.671,"v":63.1},{"l":"Y3","r":0.799,"v":64.5},{"l":"Y3","r":0.961,"v":65.9},
{"l":"Y4","r":0.0122,"v":100},{"l":"Y4","r":0.017,"v":93.6},{"l":"Y4","r":0.0209,"v":85.8},{"l":"Y4","r":0.026,"v":75.2},{"l":"Y4","r":0.0346,"v":59.1},{"l":"Y4","r":0.0461,"v":49.6},{"l":"Y4","r":0.0684,"v":40.7},{"l":"Y4","r":0.0993,"v":36.5},{"l":"Y4","r":0.151,"v":35.7},{"l":"Y4","r":0.234,"v":35.7},{"l":"Y4","r":0.279,"v":35.7},{"l":"Y4","r":0.332,"v":37.3},{"l":"Y4","r":0.396,"v":46.4},{"l":"Y4","r":0.472,"v":55.3},{"l":"Y4","r":0.563,"v":60.4},{"l":"Y4","r":0.671,"v":63.1},{"l":"Y4","r":0.799,"v":64.5},{"l":"Y4","r":0.961,"v":65.9},
{"l":"Y5","r":0.0122,"v":68.9},{"l":"Y5","r":0.017,"v":67.4},{"l":"Y5","r":0.0209,"v":65.9},{"l":"Y5","r":0.026,"v":63.1},{"l":"Y5","r":0.0346,"v":57.8},{"l":"Y5","r":0.0461,"v":49.6},{"l":"Y5","r":0.0684,"v":40.7},{"l":"Y5","r":0.0993,"v":36.5},{"l":"Y5","r":0.151,"v":34.9},{"l":"Y5","r":0.234,"v":34.9},{"l":"Y5","r":0.279,"v":34.9},{"l":"Y5","r":0.332,"v":37.3},{"l":"Y5","r":0.396,"v":46.4},{"l":"Y5","r":0.472,"v":55.3},{"l":"Y5","r":0.563,"v":60.4},{"l":"Y5","r":0.671,"v":63.1},{"l":"Y5","r":0.799,"v":64.5},{"l":"Y5","r":0.961,"v":65.9},
{"l":"Y6","r":0.0122,"v":64.5},{"l":"Y6","r":0.017,"v":63.1},{"l":"Y6","r":0.0209,"v":61.7},{"l":"Y6","r":0.026,"v":59.1},{"l":"Y6","r":0.0346,"v":55.3},{"l":"Y6","r":0.0461,"v":48.5},{"l":"Y6","r":0.0684,"v":39.8},{"l":"Y6","r":0.0993,"v":35.7},{"l":"Y6","r":0.151,"v":34.9},{"l":"Y6","r":0.234,"v":34.9},{"l":"Y6","r":0.279,"v":34.9},{"l":"Y6","r":0.332,"v":37.3},{"l":"Y6","r":0.396,"v":45.4},{"l":"Y6","r":0.472,"v":54.1},{"l":"Y6","r":0.563,"v":60.4},{"l":"Y6","r":0.671,"v":63.1},{"l":"Y6","r":0.799,"v":64.5},{"l":"Y6","r":0.961,"v":65.9},
{"l":"Y7","r":0.0122,"v":45.4},{"l":"Y7","r":0.017,"v":45.4},{"l":"Y7","r":0.0209,"v":45.4},{"l":"Y7","r":0.026,"v":45.4},{"l":"Y7","r":0.0346,"v":44.4},{"l":"Y7","r":0.0461,"v":43.5},{"l":"Y7","r":0.0684,"v":40.7},{"l":"Y7","r":0.0993,"v":36.5},{"l":"Y7","r":0.151,"v":34.9},{"l":"Y7","r":0.234,"v":34.2},{"l":"Y7","r":0.279,"v":34.2},{"l":"Y7","r":0.332,"v":36.5},{"l":"Y7","r":0.396,"v":45.4},{"l":"Y7","r":0.472,"v":54.1},{"l":"Y7","r":0.563,"v":60.4},{"l":"Y7","r":0.671,"v":63.1},{"l":"Y7","r":0.799,"v":64.5},{"l":"Y7","r":0.961,"v":65.9}
],
"hl":[
{"l":"H1","r":0.0122,"v":239.3},{"l":"H1","r":0.017,"v":190.6},{"l":"H1","r":0.0209,"v":134.8},{"l":"H1","r":0.026,"v":90.8},{"l":"H1","r":0.0301,"v":76.9},{"l":"H1","r":0.0346,"v":71.7},{"l":"H1","r":0.0397,"v":69.2},{"l":"H1","r":0.0461,"v":67.4},{"l":"H1","r":0.0549,"v":65},{"l":"H1","r":0.0684,"v":62.3},{"l":"H1","r":0.0815,"v":59.9},{"l":"H1","r":0.0993,"v":56.8},{"l":"H1","r":0.121,"v":52.2},{"l":"H1","r":0.151,"v":47.4},{"l":"H1","r":0.188,"v":44.4},{"l":"H1","r":0.234,"v":42.7},{"l":"H1","r":0.279,"v":42.1},{"l":"H1","r":0.332,"v":43.3},{"l":"H1","r":0.396,"v":48.5},{"l":"H1","r":0.472,"v":53.4},{"l":"H1","r":0.563,"v":58.1},{"l":"H1","r":0.671,"v":61.7},{"l":"H1","r":0.799,"v":64.8},{"l":"H1","r":0.961,"v":68},
{"l":"H2","r":0.0122,"v":158.5},{"l":"H2","r":0.017,"v":130.1},{"l":"H2","r":0.0209,"v":98.2},{"l":"H2","r":0.026,"v":76.9},{"l":"H2","r":0.0301,"v":63.1},{"l":"H2","r":0.0346,"v":57.3},{"l":"H2","r":0.0397,"v":54.6},{"l":"H2","r":0.0461,"v":53.9},{"l":"H2","r":0.0549,"v":53.4},{"l":"H2","r":0.0684,"v":52.5},{"l":"H2","r":0.0815,"v":53.6},{"l":"H2","r":0.0993,"v":55.3},{"l":"H2","r":0.121,"v":54.1},{"l":"H2","r":0.151,"v":49.6},{"l":"H2","r":0.188,"v":43.8},{"l":"H2","r":0.234,"v":40.2},{"l":"H2","r":0.279,"v":39.2},{"l":"H2","r":0.332,"v":40.3},{"l":"H2","r":0.396,"v":46.6},{"l":"H2","r":0.472,"v":51.8},{"l":"H2","r":0.563,"v":56.5},{"l":"H2","r":0.671,"v":60.6},{"l":"H2","r":0.799,"v":65},{"l":"H2","r":0.961,"v":70.4},
{"l":"H3","r":0.0122,"v":145.2},{"l":"H3","r":0.017,"v":142},{"l":"H3","r":0.0209,"v":131.2},{"l":"H3","r":0.026,"v":109.2},{"l":"H3","r":0.0301,"v":83.9},{"l":"H3","r":0.0346,"v":62.5},{"l":"H3","r":0.0397,"v":52.5},{"l":"H3","r":0.0461,"v":49.6},{"l":"H3","r":0.0549,"v":49.6},{"l":"H3","r":0.0684,"v":49.6},{"l":"H3","r":0.0815,"v":49.1},{"l":"H3","r":0.0993,"v":48.7},{"l":"H3","r":0.121,"v":48},{"l":"H3","r":0.151,"v":45.4},{"l":"H3","r":0.188,"v":42.4},{"l":"H3","r":0.234,"v":40.7},{"l":"H3","r":0.279,"v":40.5},{"l":"H3","r":0.332,"v":42.4},{"l":"H3","r":0.396,"v":49.6},{"l":"H3","r":0.472,"v":55.3},{"l":"H3","r":0.563,"v":60.4},{"l":"H3","r":0.671,"v":64.8},{"l":"H3","r":0.799,"v":67.4},{"l":"H3","r":0.961,"v":69.8},
{"l":"H4","r":0.0122,"v":210.8},{"l":"H4","r":0.017,"v":175.4},{"l":"H4","r":0.0209,"v":130.1},{"l":"H4","r":0.026,"v":80.7},{"l":"H4","r":0.0301,"v":54.3},{"l":"H4","r":0.0346,"v":42.7},{"l":"H4","r":0.0397,"v":39.5},{"l":"H4","r":0.0461,"v":40.7},{"l":"H4","r":0.0549,"v":44},{"l":"H4","r":0.0684,"v":44.8},{"l":"H4","r":0.0815,"v":44.4},{"l":"H4","r":0.0993,"v":44.2},{"l":"H4","r":0.121,"v":44},{"l":"H4","r":0.151,"v":42.9},{"l":"H4","r":0.188,"v":41.4},{"l":"H4","r":0.234,"v":40.3},{"l":"H4","r":0.279,"v":40.2},{"l":"H4","r":0.332,"v":42.4},{"l":"H4","r":0.396,"v":49.1},{"l":"H4","r":0.472,"v":55.8},{"l":"H4","r":0.563,"v":61.7},{"l":"H4","r":0.671,"v":66.2},{"l":"H4","r":0.799,"v":68.6},{"l":"H4","r":0.961,"v":69.5},
{"l":"H5","r":0.0122,"v":123.4},{"l":"H5","r":0.017,"v":120.2},{"l":"H5","r":0.0209,"v":111.6},{"l":"H5","r":0.026,"v":93.6},{"l":"H5","r":0.0301,"v":80.3},{"l":"H5","r":0.0346,"v":62.2},{"l":"H5","r":0.0397,"v":53.6},{"l":"H5","r":0.0461,"v":45.4},{"l":"H5","r":0.0549,"v":42.7},{"l":"H5","r":0.0684,"v":41},{"l":"H5","r":0.0815,"v":39.8},{"l":"H5","r":0.0993,"v":38.4},{"l":"H5","r":0.121,"v":37.9},{"l":"H5","r":0.151,"v":38.1},{"l":"H5","r":0.188,"v":38.3},{"l":"H5","r":0.234,"v":37.9},{"l":"H5","r":0.279,"v":37.9},{"l":"H5","r":0.332,"v":39.5},{"l":"H5","r":0.396,"v":47.4},{"l":"H5","r":0.472,"v":55.8},{"l":"H5","r":0.563,"v":61.2},{"l":"H5","r":0.671,"v":64.5},{"l":"H5","r":0.799,"v":65.9},{"l":"H5","r":0.961,"v":67.1},
{"l":"H6","r":0.0122,"v":142.6},{"l":"H6","r":0.017,"v":115.1},{"l":"H6","r":0.0209,"v":84.7},{"l":"H6","r":0.026,"v":61.7},{"l":"H6","r":0.0301,"v":52.9},{"l":"H6","r":0.0346,"v":50.1},{"l":"H6","r":0.0397,"v":48.3},{"l":"H6","r":0.0461,"v":46.2},{"l":"H6","r":0.0549,"v":43.5},{"l":"H6","r":0.0684,"v":41},{"l":"H6","r":0.0815,"v":38.8},{"l":"H6","r":0.0993,"v":37},{"l":"H6","r":0.121,"v":36.3},{"l":"H6","r":0.151,"v":36.5},{"l":"H6","r":0.188,"v":36.7},{"l":"H6","r":0.234,"v":36.5},{"l":"H6","r":0.279,"v":36.7},{"l":"H6","r":0.332,"v":38.4},{"l":"H6","r":0.396,"v":46.6},{"l":"H6","r":0.472,"v":55.3},{"l":"H6","r":0.563,"v":60.6},{"l":"H6","r":0.671,"v":63.9},{"l":"H6","r":0.799,"v":65.6},{"l":"H6","r":0.961,"v":66.8},
{"l":"H7","r":0.0122,"v":143.9},{"l":"H7","r":0.017,"v":114.1},{"l":"H7","r":0.0209,"v":82.8},{"l":"H7","r":0.026,"v":59.6},{"l":"H7","r":0.0301,"v":51.3},{"l":"H7","r":0.0346,"v":48.5},{"l":"H7","r":0.0397,"v":47.2},{"l":"H7","r":0.0461,"v":45},{"l":"H7","r":0.0549,"v":42.4},{"l":"H7","r":0.0684,"v":39.5},{"l":"H7","r":0.0815,"v":36.5},{"l":"H7","r":0.0993,"v":34.2},{"l":"H7","r":0.121,"v":34.6},{"l":"H7","r":0.151,"v":35.1},{"l":"H7","r":0.188,"v":35.4},{"l":"H7","r":0.234,"v":35.4},{"l":"H7","r":0.279,"v":35.7},{"l":"H7","r":0.332,"v":37.5},{"l":"H7","r":0.396,"v":45.8},{"l":"H7","r":0.472,"v":54.8},{"l":"H7","r":0.563,"v":60.2},{"l":"H7","r":0.671,"v":63.4},{"l":"H7","r":0.799,"v":65},{"l":"H7","r":0.961,"v":66.5}
]
},
"resolve":{"scale":{"x":"independent","y":"independent"},"axis":{"x":"independent","y":"independent"}},
"layer":[
{"data":{"name":"bg"},
 "transform":[{"lookup":"l","from":{"data":{"name":"lines"},"key":"l","fields":["c"]}}],
 "mark":{"type":"line","strokeWidth":3.3,"strokeOpacity":0.62},
 "encoding":{
  "x":{"field":"r","type":"quantitative","scale":{"type":"log","domain":[0.00991,1.176],"nice":false},
       "axis":{"orient":"bottom","values":[0.02,0.03,0.04,0.05,0.06,0.07,0.08,0.09,0.2,0.3,0.4,0.5,0.6,0.7,0.8,0.9],"labels":false,"tickSize":-11,"tickWidth":1.3,"title":null}},
  "y":{"field":"v","type":"quantitative","scale":{"type":"log","domain":[25.9,265],"nice":false},
       "axis":{"orient":"left","values":[30,40,50,60,70,80,90,200],"labels":false,"tickSize":-11,"tickWidth":1.3,"title":null}},
  "color":{"field":"c","type":"quantitative","scale":{"domain":[0,1],"range":["#042333","#0e2f5d","#252f8f","#47399c","#6b4598","#8d518f","#b05d84","#d16d72","#ed8758","#f9b53e","#e8fa5b"]},
   "legend":{"orient":"none","legendX":1089,"legendY":0,"direction":"vertical","gradientLength":530,"gradientThickness":43,"gradientStrokeColor":"black","gradientStrokeWidth":1.5,"values":[0.096,0.268,0.464,0.587,0.849,0.94],"labelExpr":"datum.value < 0.15 ? '12.9' : datum.value < 0.3 ? '13.1' : datum.value < 0.5 ? '13.3' : datum.value < 0.7 ? '13.4' : '13.7'","labelOverlap":false,"labelFontSize":20,"labelOffset":10,"labelColor":"black","title":"Cosmic Time [Gyr]","titleOrient":"right","titleLimit":1000,"titleFontSize":25,"titleFontWeight":"normal","titleColor":"black","titleAnchor":"middle","titlePadding":10,"padding":0,
    "encode":{"gradient":{"update":{"opacity":{"value":1}}},"title":{"update":{"angle":{"value":270},"baseline":{"value":"top"},"align":{"value":"center"}}}}}},
  "detail":{"field":"l"}
 }},
{"data":{"name":"hl"},
 "mark":{"type":"line","strokeWidth":8,"color":"#1a1a1a"},
 "encoding":{
  "x":{"field":"r","type":"quantitative","scale":{"type":"log","domain":[0.00991,1.176],"nice":false},
       "axis":{"orient":"bottom","values":[0.01,0.1,1],"format":"~g","labelFontSize":25,"tickSize":-27,"tickWidth":2,"labelPadding":36,"title":"Radius (r)\u00a0\u00a0[R₅₀₀c]","titleFontSize":29,"titlePadding":4}},
  "y":{"field":"v","type":"quantitative","scale":{"type":"log","domain":[25.9,265],"nice":false},
       "axis":{"orient":"left","values":[100],"labelExpr":"'10²'","labelFontSize":25,"tickSize":-27,"tickWidth":2,"labelPadding":37,"title":"σv, turb (r)\u00a0\u00a0[km s⁻¹]","titleFontSize":30,"titlePadding":18}},
  "detail":{"field":"l"}
 }},
{"data":{"name":"hl"},
 "transform":[{"lookup":"l","from":{"data":{"name":"lines"},"key":"l","fields":["c"]}}],
 "mark":{"type":"line","strokeWidth":4.6},
 "encoding":{
  "x":{"field":"r","type":"quantitative","scale":{"type":"log","domain":[0.00991,1.176],"nice":false},"axis":null},
  "y":{"field":"v","type":"quantitative","scale":{"type":"log","domain":[25.9,265],"nice":false},
       "axis":{"orient":"right","values":[30,40,50,60,70,80,90,200],"labels":false,"tickSize":-11,"tickWidth":1.3,"title":null}},
  "color":{"field":"c","type":"quantitative","scale":{"domain":[0,1],"range":["#042333","#0e2f5d","#252f8f","#47399c","#6b4598","#8d518f","#b05d84","#d16d72","#ed8758","#f9b53e","#e8fa5b"]}},
  "detail":{"field":"l"}
 }},
{"data":{"values":[{"r":0.6035,"v":188.9,"t":"TNG300, subbox 0"},{"r":0.6035,"v":167,"t":"M₅₀₀c = 1.15 × 10¹⁵ M☉"}]},
 "mark":{"type":"text","fontSize":19,"color":"#7a7a7a","align":"center","baseline":"middle"},
 "encoding":{
  "x":{"field":"r","type":"quantitative","scale":{"type":"log","domain":[0.00991,1.176],"nice":false},"axis":null},
  "y":{"field":"v","type":"quantitative","scale":{"type":"log","domain":[25.9,265],"nice":false},
       "axis":{"orient":"right","values":[100],"labels":false,"tickSize":-27,"tickWidth":2,"title":null}},
  "text":{"field":"t"}
 }},
{"data":{"values":[{}]},
 "mark":{"type":"rule","opacity":0},
 "encoding":{
  "x":{"datum":100,"type":"quantitative","scale":{"type":"log","domain":[16.15,1917],"nice":false},
       "axis":{"orient":"top","values":[20,30,40,50,60,70,80,90,200,300,400,500,600,700,800,900],"labels":false,"tickSize":-11,"tickWidth":1.3,"title":null}}
 }},
{"data":{"values":[{}]},
 "mark":{"type":"rule","opacity":0},
 "encoding":{
  "x":{"datum":1000,"type":"quantitative","scale":{"type":"log","domain":[16.15,1917],"nice":false},
       "axis":{"orient":"top","values":[100,1000],"labelExpr":"datum.value < 500 ? '10²' : '10³'","labelFontSize":25,"tickSize":-27,"tickWidth":2,"labelPadding":37,"title":"Radial distance from the central SMBH\u00a0\u00a0[kpc]","titleFontSize":25,"titlePadding":3}}
 }}
]
}
